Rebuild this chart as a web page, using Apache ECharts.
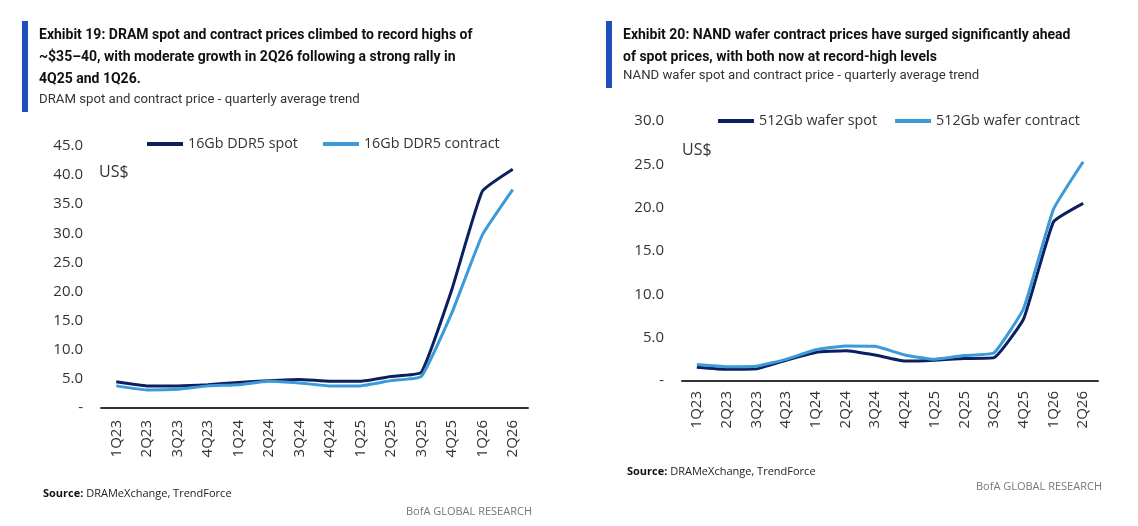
<!DOCTYPE html>
<html>
<head>
<meta charset="utf-8">
<script src="https://cdn.jsdelivr.net/npm/echarts@6/dist/echarts.min.js"></script>
<style>
  html, body { margin: 0; padding: 0; background: #fff; }
  #chart { width: 1138px; height: 526px; }
</style>
</head>
<body>
<div id="chart"></div>
<script>
const quarters = ['1Q23', '2Q23', '3Q23', '4Q23', '1Q24', '2Q24', '3Q24', '4Q24', '1Q25', '2Q25', '3Q25', '4Q25', '1Q26', '2Q26']

// Exhibit 19 - DRAM (US$)
const dramSpot = [4.5, 3.8, 3.8, 4.0, 4.4, 4.7, 4.9, 4.6, 4.6, 5.4, 6.1, 20.3, 37.2, 41.0]
const dramContract = [3.8, 3.1, 3.2, 3.8, 4.0, 4.6, 4.3, 3.8, 3.8, 4.7, 5.4, 16.3, 29.7, 37.5]

// Exhibit 20 - NAND wafer (US$)
const nandSpot = [1.6, 1.35, 1.4, 2.4, 3.3, 3.5, 3.0, 2.3, 2.4, 2.6, 2.7, 7.2, 18.35, 20.5]
const nandContract = [1.9, 1.65, 1.7, 2.5, 3.6, 4.05, 4.0, 3.0, 2.5, 2.95, 3.25, 8.4, 19.8, 25.3]

const NAVY = '#0c1f5f'
const LIGHT = '#3d9ad8'
const BAR = '#1f4fbd'
const FONT = '"Open Sans", "Noto Sans", sans-serif'
const TITLE_FONT = 'Roboto, "Noto Sans", sans-serif'

const chart = echarts.init(document.getElementById('chart'))

function yLabel(value) {
  return value === 0 ? '-' : value.toFixed(1)
}

function makeXAxis(gridIndex, margin) {
  return {
    type: 'category',
    gridIndex,
    data: quarters,
    boundaryGap: true,
    axisLine: { lineStyle: { color: '#333', width: 2 } },
    axisTick: { show: false },
    axisLabel: {
      rotate: 90,
      color: '#333',
      fontSize: 15,
      fontFamily: FONT,
      margin
    }
  }
}

function makeYAxis(gridIndex, max) {
  return {
    type: 'value',
    gridIndex,
    min: 0,
    max,
    interval: 5,
    axisLine: { show: false },
    axisTick: { show: false },
    splitLine: { show: false },
    axisLabel: {
      color: '#333',
      fontSize: 15,
      fontFamily: FONT,
      margin: 18,
      formatter: yLabel
    }
  }
}

function makeLine(name, data, color, idx) {
  return {
    name,
    type: 'line',
    xAxisIndex: idx,
    yAxisIndex: idx,
    data,
    smooth: 0.12,
    symbol: 'none',
    lineStyle: { color, width: 3 },
    itemStyle: { color }
  }
}

const legendText = { color: '#333', fontSize: 14.3, fontFamily: FONT }
const sourceStyle = {
  fontSize: 11, fontWeight: 'normal', color: '#222', fontFamily: FONT,
  rich: { b: { fontWeight: 'bold', fontSize: 11, fontFamily: FONT, color: '#111' } }
}

chart.setOption({
  animation: false,
  grid: [
    { left: 101, right: 1138 - 528, top: 146, bottom: 526 - 408 },
    { left: 682, right: 1138 - 1098, top: 121, bottom: 526 - 381 }
  ],
  xAxis: [makeXAxis(0, 12), makeXAxis(1, 10)],
  yAxis: [makeYAxis(0, 45), makeYAxis(1, 30)],
  legend: [
    {
      data: ['16Gb DDR5 spot', '16Gb DDR5 contract'],
      left: 142, top: 132,
      itemWidth: 36, itemHeight: 4, itemGap: 25,
      icon: 'rect',
      textStyle: legendText
    },
    {
      data: ['512Gb wafer spot', '512Gb wafer contract'],
      left: 713, top: 109,
      itemWidth: 36, itemHeight: 4, itemGap: 18,
      icon: 'rect',
      textStyle: legendText
    }
  ],
  title: [
    {
      text: 'Exhibit 19: DRAM spot and contract prices climbed to record highs of\n~$35–40, with moderate growth in 2Q26 following a strong rally in\n4Q25 and 1Q26.',
      left: 39, top: 24, padding: 0,
      textStyle: { fontSize: 14, fontWeight: 'bold', color: '#111', fontFamily: TITLE_FONT, lineHeight: 22 }
    },
    {
      text: 'DRAM spot and contract price - quarterly average trend',
      left: 39, top: 93, padding: 0,
      textStyle: { fontSize: 13.2, fontWeight: 'normal', color: '#333', fontFamily: TITLE_FONT }
    },
    {
      text: 'Exhibit 20: NAND wafer contract prices have surged significantly ahead\nof spot prices, with both now at record-high levels',
      left: 623, top: 24, padding: 0,
      textStyle: { fontSize: 14, fontWeight: 'bold', color: '#111', fontFamily: TITLE_FONT, lineHeight: 22 }
    },
    {
      text: 'NAND wafer spot and contract price - quarterly average trend',
      left: 623, top: 69, padding: 0,
      textStyle: { fontSize: 13.2, fontWeight: 'normal', color: '#333', fontFamily: TITLE_FONT }
    },
    {
      text: 'US$', left: 99, top: 164, padding: 0,
      textStyle: { fontSize: 16, fontWeight: 'normal', color: '#333', fontFamily: FONT }
    },
    {
      text: 'US$', left: 682, top: 142, padding: 0,
      textStyle: { fontSize: 16, fontWeight: 'normal', color: '#333', fontFamily: FONT }
    },
    { text: '{b|Source:} DRAMeXchange, TrendForce', left: 43, top: 488, padding: 0, textStyle: sourceStyle },
    { text: '{b|Source:} DRAMeXchange, TrendForce', left: 627, top: 466, padding: 0, textStyle: sourceStyle },
    {
      text: 'BofA GLOBAL RESEARCH', right: 1138 - 532, top: 506, padding: 0,
      textStyle: { fontSize: 11, fontWeight: 'normal', color: '#777', fontFamily: FONT }
    },
    {
      text: 'BofA GLOBAL RESEARCH', right: 1138 - 1102, top: 481, padding: 0,
      textStyle: { fontSize: 11, fontWeight: 'normal', color: '#777', fontFamily: FONT }
    }
  ],
  graphic: [
    { type: 'rect', shape: { x: 22, y: 21, width: 6, height: 91 }, style: { fill: BAR } },
    { type: 'rect', shape: { x: 606, y: 21, width: 6, height: 67 }, style: { fill: BAR } }
  ],
  series: [
    makeLine('16Gb DDR5 spot', dramSpot, NAVY, 0),
    makeLine('16Gb DDR5 contract', dramContract, LIGHT, 0),
    makeLine('512Gb wafer spot', nandSpot, NAVY, 1),
    makeLine('512Gb wafer contract', nandContract, LIGHT, 1)
  ]
})

window.addEventListener('resize', () => chart.resize())
</script>
</body>
</html>
